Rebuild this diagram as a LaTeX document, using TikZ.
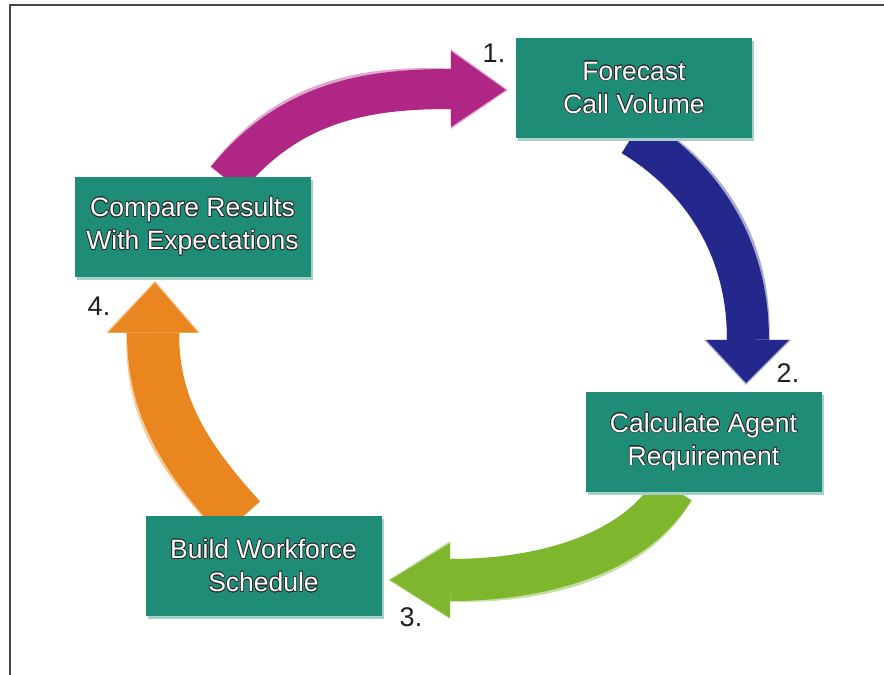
\documentclass[tikz,border=0pt]{standalone}
\usepackage{fontspec}
\setmainfont{Liberation Sans}
\usepackage{contour}
\contourlength{0.7pt}
\usetikzlibrary{backgrounds,calc,shadows}
\definecolor{boxteal}{RGB}{31,140,120}
\definecolor{outl}{RGB}{40,40,40}
\definecolor{amag}{RGB}{176,38,132}
\definecolor{ablue}{RGB}{36,40,140}
\definecolor{agreen}{RGB}{126,182,46}
\definecolor{aorange}{RGB}{234,134,32}
\definecolor{numgray}{RGB}{30,30,30}
\definecolor{framegray}{RGB}{70,70,70}
\newcommand{\ol}[1]{\contour{outl}{#1}}
\begin{document}
\begin{tikzpicture}[x=1pt,y=-1pt,
  stepbox/.style={rectangle, fill=boxteal, minimum width=236pt, minimum height=100pt,
    inner sep=0pt, align=center, text=white, font=\fontsize{26.5}{33}\selectfont,
    drop shadow={shadow xshift=2pt, shadow yshift=-3pt, fill=boxteal!40, opacity=1}},
  numlabel/.style={text=numgray, font=\fontsize{27}{27}\selectfont, inner sep=0pt},
  shaft/.style 2 args={draw=#2, line width=#1pt},
  head/.style={fill=#1}
]
\useasboundingbox (0,0) rectangle (884,675);
\draw[framegray, line width=1.5pt] (884,5) -- (10,5) -- (10,675);

\node[stepbox] (fc) at (634,88) {\ol{Forecast}\\\ol{Call Volume}};
\node[stepbox] (ca) at (703.5,442) {\ol{Calculate Agent}\\\ol{Requirement}};
\node[stepbox] (bw) at (263.5,566) {\ol{Build Workforce}\\\ol{Schedule}};
\node[stepbox] (cr) at (192.5,226.5) {\ol{Compare Results}\\\ol{With Expectations}};

\node[numlabel] (n1) at (494,53) {1.};
\node[numlabel] (n2) at (788,373) {2.};
\node[numlabel] (n3) at (411,617) {3.};
\node[numlabel] (n4) at (99,306) {4.};

% magenta: Compare -> Forecast
\coordinate (m0) at ($(cr.north)+(34,3)$);
\coordinate (m1) at ($(fc.west)+(-10,2)$);
\coordinate (mb) at ($(m1)+(-55,-1)$);
% blue: Forecast -> Calculate
\coordinate (b0) at ($(fc.south)+(-1,-3)$);
\coordinate (b1) at ($(ca.north)+(42.5,-9)$);
\coordinate (bb) at ($(b1)+(2,-43)$);
% green: Calculate -> Build
\coordinate (g0) at ($(ca.south)+(-30,-3)$);
\coordinate (g1) at ($(bw.east)+(8.5,14)$);
\coordinate (gb) at ($(g1)+(60,0)$);
% orange: Build -> Compare
\coordinate (o0) at ($(bw.north)+(-23,3)$);
\coordinate (o1) at ($(cr.south)+(-37.5,6)$);
\coordinate (ob) at ($(o1)+(-2,50)$);

\begin{pgfonlayer}{background}
% soft halos
\begin{scope}[shift={(-2,-3)}]
\draw[shaft={41}{amag!40}] (m0) .. controls (291,100) and (370,89) .. (mb);
\fill[head=amag!40] ($(mb)+(0,-40)$) -- ($(m1)+(2,0)$) -- ($(mb)+(0,40)$) -- cycle;
\end{scope}
\begin{scope}[shift={(3,-1)}]
\draw[shaft={43}{ablue!40}] (b0) .. controls (705,180) and (748,250) .. (bb);
\fill[head=ablue!40] ($(bb)+(-44,0)$) -- ($(b1)+(0,2)$) -- ($(bb)+(43,0)$) -- cycle;
\end{scope}
\begin{scope}[shift={(1,3)}]
\draw[shaft={43}{agreen!45}] (g0) .. controls (630,560) and (530,580) .. (gb);
\fill[head=agreen!45] ($(gb)+(0,-39)$) -- ($(g1)+(-2,0)$) -- ($(gb)+(0,39)$) -- cycle;
\end{scope}
\begin{scope}[shift={(-3,1)}]
\draw[shaft={53}{aorange!45}] (o0) .. controls (188,460) and (153,410) .. (ob);
\fill[head=aorange!45] ($(ob)+(-47,0)$) -- ($(o1)+(0,-2)$) -- ($(ob)+(47,0)$) -- cycle;
\end{scope}
% arrows
\draw[shaft={40}{amag}] (m0) .. controls (291,100) and (370,89) .. (mb);
\fill[head=amag] ($(mb)+(0,-38)$) -- (m1) -- ($(mb)+(0,38)$) -- cycle;
\draw[shaft={42}{ablue}] (b0) .. controls (705,180) and (748,250) .. (bb);
\fill[head=ablue] ($(bb)+(-42,0)$) -- (b1) -- ($(bb)+(41,0)$) -- cycle;
\draw[shaft={42}{agreen}] (g0) .. controls (630,560) and (530,580) .. (gb);
\fill[head=agreen] ($(gb)+(0,-37)$) -- (g1) -- ($(gb)+(0,38)$) -- cycle;
\draw[shaft={52}{aorange}] (o0) .. controls (188,460) and (153,410) .. (ob);
\fill[head=aorange] ($(ob)+(-45,0)$) -- (o1) -- ($(ob)+(45,0)$) -- cycle;
\end{pgfonlayer}
\end{tikzpicture}
\end{document}
